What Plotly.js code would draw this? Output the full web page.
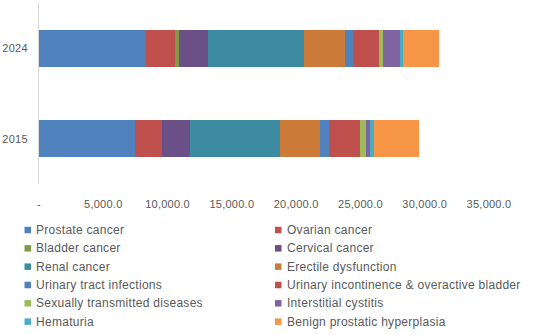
<!DOCTYPE html>
<html>
<head>
<meta charset="utf-8">
<script src="https://cdn.plot.ly/plotly-3.0.1.min.js"></script>
<style>
html,body{margin:0;padding:0;background:#fff;}
#chart{width:547px;height:334px;}
#chart .annotation-text{letter-spacing:0.28px;}
#chart .xtick text,#chart .ytick text{letter-spacing:0.25px;}
</style>
</head>
<body>
<div id="chart"></div>
<script>
var years = ["2015", "2024"];
var seriesNames = ["Prostate cancer", "Ovarian cancer", "Bladder cancer", "Cervical cancer",
  "Renal cancer", "Erectile dysfunction", "Urinary tract infections",
  "Urinary incontinence & overactive bladder", "Sexually transmitted diseases",
  "Interstitial cystitis", "Hematuria", "Benign prostatic hyperplasia"];
var prostate = [7480, 8330];
var ovarian = [2100, 2260];
var bladder = [0, 310];
var cervical = [2180, 2260];
var renal = [7010, 7480];
var erectile = [3120, 3190];
var uti = [700, 570];
var incontinence = [2340, 2080];
var std = [470, 310];
var cystitis = [310, 1320];
var hematuria = [310, 230];
var bph = [3500, 2800];
var tickVals = [0, 5000, 10000, 15000, 20000, 25000, 30000, 35000];
var tickText = ["-", "5,000.0", "10,000.0", "15,000.0", "20,000.0", "25,000.0", "30,000.0", "35,000.0"];

var seriesValues = [prostate, ovarian, bladder, cervical, renal, erectile, uti, incontinence, std, cystitis, hematuria, bph];
var colors = ["#4f81bd", "#c0504d", "#7f9a48", "#6a5086", "#3d8ba1", "#cc7a38",
  "#4f81bd", "#c0504d", "#9bbb59", "#8064a2", "#4bacc6", "#f79646"];

var traces = seriesNames.map(function(name, i) {
  return {
    type: "bar", orientation: "h", name: name,
    y: years, x: seriesValues[i],
    marker: {color: colors[i], line: {width: 0}},
    width: 0.41,
    hoverinfo: "x+name",
    showlegend: false
  };
});

var W = 547, H = 334;
var M = {l: 39, r: 58, t: 3, b: 150};
var PW = W - M.l - M.r, PH = H - M.t - M.b;
function px2x(p) { return (p - M.l) / PW; }
function py2y(p) { return 1 - (p - M.t) / PH; }

var font = {family: "Liberation Sans, Arial, sans-serif", size: 11, color: "#595959"};
var legendFont = {family: "Liberation Sans, Arial, sans-serif", size: 12, color: "#595959"};

// Custom legend in two columns (Excel style)
var shapes = [], annotations = [];
seriesNames.forEach(function(name, i) {
  var col = i % 2, row = Math.floor(i / 2);
  var cx = 24.5 + 250.5 * col;
  var cy = 230 + 18.33 * row;
  shapes.push({
    type: "rect", xref: "paper", yref: "paper",
    x0: px2x(cx), x1: px2x(cx + 6.5), y0: py2y(cy - 3.25), y1: py2y(cy + 3.25),
    fillcolor: colors[i], line: {width: 0}
  });
  annotations.push({
    xref: "paper", yref: "paper", x: px2x(cx + 9.5), y: py2y(cy),
    xanchor: "left", yanchor: "middle", showarrow: false, align: "left",
    text: name, font: legendFont
  });
});

var layout = {
  width: W, height: H,
  margin: M,
  barmode: "stack",
  paper_bgcolor: "#fff", plot_bgcolor: "#fff",
  font: font,
  showlegend: false,
  shapes: shapes,
  annotations: annotations,
  xaxis: {
    range: [0, 35000], tickvals: tickVals, ticktext: tickText,
    showgrid: false, zeroline: false, showline: false,
    ticks: "outside", ticklen: 10, tickcolor: "rgba(0,0,0,0)",
    tickfont: font, fixedrange: true
  },
  yaxis: {
    type: "category", categoryorder: "array", categoryarray: years,
    range: [-0.5, 1.5],
    showgrid: false, zeroline: false, showline: true, linecolor: "#d9d9d9", linewidth: 1,
    ticks: "outside", ticklen: 8, tickcolor: "rgba(0,0,0,0)",
    tickfont: font, fixedrange: true
  }
};
Plotly.newPlot("chart", traces, layout, {displayModeBar: false, staticPlot: true});
</script>
</body>
</html>
